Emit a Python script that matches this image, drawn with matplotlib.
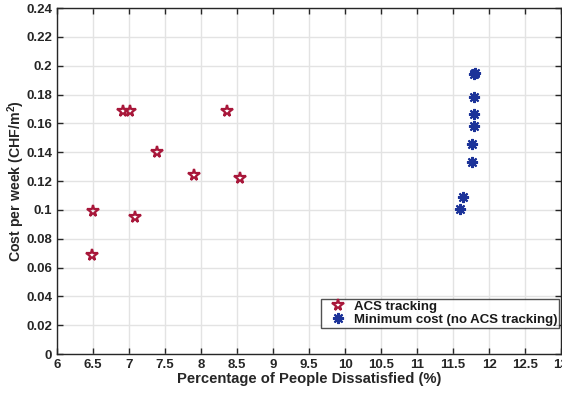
import matplotlib
matplotlib.use("Agg")
import matplotlib.pyplot as plt

plt.rcParams['font.family'] = ['Liberation Sans', 'DejaVu Sans']
plt.rcParams['mathtext.fontset'] = 'custom'
plt.rcParams['mathtext.bf'] = 'Liberation Sans:bold'
plt.rcParams['mathtext.rm'] = 'Liberation Sans'

# ACS tracking results
acs_ppd = [6.49, 6.50, 6.92, 7.01, 7.08, 7.38, 7.90, 8.36, 8.54]
acs_cost = [0.0687, 0.0994, 0.1686, 0.1686, 0.0952, 0.140, 0.1242, 0.1686, 0.1219]

# Minimum-cost results (no ACS tracking)
min_ppd = [11.60, 11.64, 11.77, 11.77, 11.79, 11.79, 11.79, 11.79, 11.80]
min_cost = [0.1006, 0.1091, 0.133, 0.1455, 0.1582, 0.1663, 0.1785, 0.1942, 0.1948]

x_ticks = [6, 6.5, 7, 7.5, 8, 8.5, 9, 9.5, 10, 10.5, 11, 11.5, 12, 12.5, 13]
x_labels = ['6', '6.5', '7', '7.5', '8', '8.5', '9', '9.5', '10', '10.5', '11',
            '11.5', '12', '12.5', '13']
y_ticks = [0, 0.02, 0.04, 0.06, 0.08, 0.1, 0.12, 0.14, 0.16, 0.18, 0.2, 0.22, 0.24]
y_labels = ['0', '0.02', '0.04', '0.06', '0.08', '0.1', '0.12', '0.14', '0.16',
            '0.18', '0.2', '0.22', '0.24']

red = '#A8173A'
blue = '#1C3399'

fig = plt.figure(figsize=(5.62, 3.94), dpi=100)
ax = fig.add_axes([0.1018, 0.1015, 0.8964, 0.878])

ax.plot(acs_ppd, acs_cost, linestyle='none', marker='*', markersize=8.5,
        markerfacecolor='none', markeredgecolor=red, markeredgewidth=1.6,
        label='ACS tracking')
ax.plot(min_ppd, min_cost, linestyle='none', marker=(8, 2, 0), markersize=8,
        markeredgecolor=blue, color=blue, markeredgewidth=1.5,
        label='Minimum cost (no ACS tracking)')

ax.set_xlim(6, 13)
ax.set_ylim(0, 0.24)
ax.set_xticks(x_ticks)
ax.set_xticklabels(x_labels)
ax.set_yticks(y_ticks)
ax.set_yticklabels(y_labels)

ax.grid(True, color='#e3e3e3', linewidth=1.0)
ax.set_axisbelow(True)
ax.tick_params(direction='in', length=4.5, width=1, top=True, right=True,
               labelsize=9.5, colors='#262626', pad=3.5)
for lab in ax.get_xticklabels() + ax.get_yticklabels():
    lab.set_fontweight('bold')
for sp in ax.spines.values():
    sp.set_color('#262626')
    sp.set_linewidth(1)

ax.set_xlabel('Percentage of People Dissatisfied (%)', fontsize=10.6,
              fontweight='bold', color='#262626', labelpad=1)
ax.set_ylabel('Cost per week (CHF/m$^{\\mathbf{2}}$)', fontsize=10.2,
              fontweight='bold', color='#262626')
ax.yaxis.set_label_coords(-0.059, 0.5)

leg = ax.legend(loc='lower right', bbox_to_anchor=(0.9966, 0.076),
                prop={'weight': 'bold', 'size': 9.5},
                frameon=True, fancybox=False, borderpad=0.15,
                handletextpad=0.05, handlelength=2.25, labelspacing=0.05,
                borderaxespad=0)
leg.get_frame().set_edgecolor('#262626')
leg.get_frame().set_linewidth(1)
for t in leg.get_texts():
    t.set_color('#1a1a1a')

fig.savefig('out.png', dpi=100)
